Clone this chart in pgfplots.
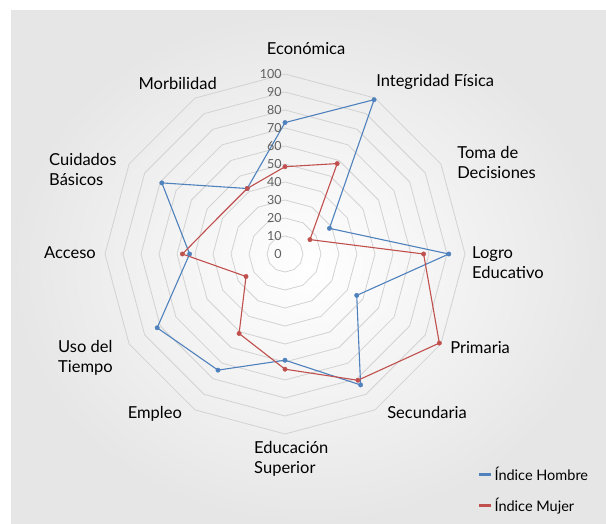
\documentclass[border=0pt]{standalone}
\usepackage{pgfplots}
\pgfplotsset{compat=1.18}
\usepackage{fontspec}
\setmainfont{Lato}
\definecolor{hombre}{RGB}{79,129,189}
\definecolor{mujer}{RGB}{192,80,77}
\definecolor{gridc}{RGB}{210,210,210}
\definecolor{tickc}{RGB}{95,95,95}

\begin{document}
\begin{tikzpicture}
% white frame and grey chart area
\fill[white] (0pt,0pt) rectangle (606pt,524pt);
\shade[inner color=white, outer color={rgb,255:red,230;green,230;blue,230}]
  (11pt,0pt) rectangle (606pt,513pt);

\begin{axis}[
  at={(285pt,270pt)}, anchor=origin,
  x=1.8pt, y=1.8pt,
  xmin=-100, xmax=100, ymin=-100, ymax=100,
  hide axis, clip=false,
  data cs=polar,
  legend cell align=left,
  legend style={at={(1.036,-0.086)}, anchor=north west, draw=none, fill=none,
    inner sep=0pt, row sep=12pt, font=\fontsize{14.5}{15}\selectfont,
    /tikz/every even column/.append style={column sep=6pt}},
  legend image code/.code={\draw[#1,line width=2.4pt] (0pt,0pt) -- (12pt,0pt);},
]
% polygonal grid
\pgfplotsinvokeforeach{10,20,30,40,50,60,70,80,90,100}{
  \addplot[gridc, line width=0.8pt, forget plot] coordinates {
    (90,#1)(60,#1)(30,#1)(0,#1)(-30,#1)(-60,#1)(-90,#1)(-120,#1)(-150,#1)(180,#1)(150,#1)(120,#1)(90,#1)};
}

% Indice Hombre
\addplot[hombre, line width=1.1pt] coordinates {
  (90,73)(60,99)(30,28.5)(0,91)(-30,46)(-60,84)(-90,59)(-120,74.5)(-150,82)(180,53)(150,79)(120,42)(90,73)};
\addlegendentry{Índice Hombre}
% Indice Mujer
\addplot[mujer, line width=1.1pt] coordinates {
  (90,48.5)(60,58)(30,16)(0,77)(-30,99)(-60,81)(-90,64)(-120,51)(-150,25)(180,57)(150,42)(120,42)(90,48.5)};
\addlegendentry{Índice Mujer}

% markers
\addplot[hombre, only marks, mark=*, mark size=2.2pt, forget plot] coordinates {
  (90,73)(60,99)(30,28.5)(0,91)(-30,46)(-60,84)(-90,59)(-120,74.5)(-150,82)(180,53)(150,79)(120,42)};
\addplot[mujer, only marks, mark=*, mark size=2.2pt, forget plot] coordinates {
  (90,48.5)(60,58)(30,16)(0,77)(-30,99)(-60,81)(-90,64)(-120,51)(-150,25)(180,57)(120,42)};

% radial tick labels
\pgfplotsinvokeforeach{0,10,20,30,40,50,60,70,80,90,100}{
  \node[anchor=east, inner sep=0pt, text=tickc, font=\fontsize{12.5}{12}\selectfont]
    at (axis cs:-1.7,#1) {#1};
}

% category labels
\begin{scope}[every node/.style={font=\fontsize{16.5}{20}\selectfont, inner sep=0pt, align=left}]
\node[anchor=center] at (axis cs:11.7,113.9) {Económica};
\node[anchor=west] at (axis cs:50.6,95.6) {Integridad Física};
\node[anchor=west] at (axis cs:95.6,51.1) {Toma de\\Decisiones};
\node[anchor=west] at (axis cs:103.9,-5) {Logro\\Educativo};
\node[anchor=west] at (axis cs:91.7,-52.2) {Primaria};
\node[anchor=west] at (axis cs:56.7,-88.3) {Secundaria};
\node[anchor=west] at (axis cs:-17.2,-113.6) {Educación\\Superior};
\node[anchor=east] at (axis cs:-57.2,-88.9) {Empleo};
\node[anchor=east] at (axis cs:-95.6,-57.8) {Uso del\\Tiempo};
\node[anchor=east] at (axis cs:-105,0.6) {Acceso};
\node[anchor=west] at (axis cs:-131.1,46.9) {Cuidados\\Básicos};
\node[anchor=east] at (axis cs:-37.8,95) {Morbilidad};
\end{scope}
\end{axis}
\end{tikzpicture}
\end{document}
